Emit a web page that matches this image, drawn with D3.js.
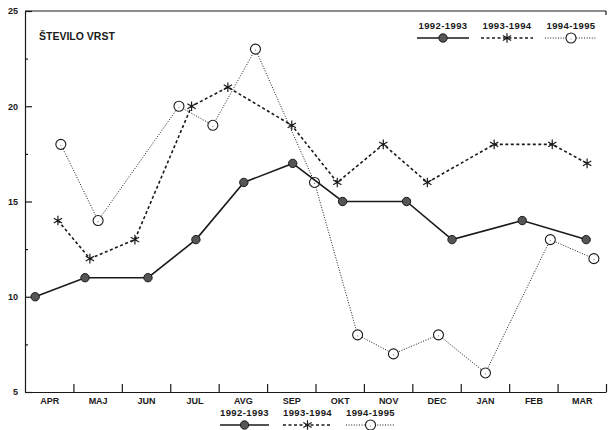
<!DOCTYPE html>
<html><head><meta charset="utf-8">
<script src="https://cdn.jsdelivr.net/npm/d3@7"></script>
<style>
html,body{margin:0;padding:0;background:#fff;}
svg{display:block;font-family:"Liberation Sans",Arial,sans-serif;}
</style></head>
<body>
<svg id="c" width="608" height="430"></svg>
<script>
// ---- data ----
const months = ["APR","MAJ","JUN","JUL","AVG","SEP","OKT","NOV","DEC","JAN","FEB","MAR"];
const yTicksMajor = [5,10,15,20,25];
const yTicksMinor = [7.5,12.5,17.5,22.5];
const seriesNames = ["1992-1993","1993-1994","1994-1995"];
// sampling time, in months from the start of April
const t9293 = [0.21,1.24,2.54,3.53,4.52,5.53,6.56,7.88,8.82,10.27,11.59];
const v9293 = [10,11,11,13,16,17,15,15,13,14,13];
const t9394 = [0.68,1.34,2.27,3.44,4.19,5.51,6.45,7.40,8.31,9.69,10.89,11.61];
const v9394 = [14,12,13,20,21,19,16,18,16,18,18,17];
const t9495 = [0.74,1.51,3.18,3.88,4.76,5.98,6.87,7.61,8.54,9.51,10.85,11.75];
const v9495 = [18,14,20,19,23,16,8,7,8,6,13,12];
const title = "ŠTEVILO VRST";

// ---- layout ----
const svg = d3.select("#c");
const ink = "#1a1a1a";
const x = d3.scaleLinear().domain([0,12]).range([25,606]);
const y = d3.scaleLinear().domain([5,25]).range([392,11]);

// axes
const gy = svg.append("g").attr("transform",`translate(${x(0)},0)`)
  .call(d3.axisLeft(y).tickValues(yTicksMajor).tickSizeInner(-7).tickSizeOuter(0).tickPadding(7).tickFormat(d3.format("d")));
const gy2 = svg.append("g").attr("transform",`translate(${x(0)},0)`)
  .call(d3.axisLeft(y).tickValues(yTicksMinor).tickSizeInner(-3).tickSizeOuter(0).tickFormat(""));
gy2.select(".domain").remove();
const gx = svg.append("g").attr("transform",`translate(0,${y(5)})`)
  .call(d3.axisBottom(x).tickValues(d3.range(1,13)).tickSizeInner(-8).tickSizeOuter(0).tickFormat(""));
const gx2 = svg.append("g").attr("transform",`translate(0,${y(5)})`)
  .call(d3.axisBottom(x).tickValues(d3.range(12).map(i=>i+0.5)).tickSize(0).tickPadding(6).tickFormat((d,i)=>months[i]));
gx2.select(".domain").remove();
[gy,gy2,gx,gx2].forEach(g=>{
  g.selectAll("path,line").attr("stroke",ink).attr("stroke-width",1.2);
  g.selectAll("text").attr("fill",ink).style("font-size","9px").style("font-weight","bold")
   .style("font-family",'"Liberation Sans",Arial,sans-serif');
});
// top frame line
svg.append("line").attr("x1",x(0)).attr("x2",x(12)).attr("y1",y(25)).attr("y2",y(25))
  .attr("stroke",ink).attr("stroke-width",1.2);
svg.append("line").attr("x1",x(12)).attr("x2",x(12)).attr("y1",y(25)).attr("y2",y(25)+4)
  .attr("stroke",ink).attr("stroke-width",1.2);

svg.append("text").attr("x",39).attr("y",40).text(title)
  .attr("fill",ink).style("font-size","10.5px").style("font-weight","bold");

// ---- series ----
const series = [
  {name:seriesNames[0], t:t9293, v:v9293, dash:null, w:1.6, marker:"dot"},
  {name:seriesNames[1], t:t9394, v:v9394, dash:"3,2.5", w:1.6, marker:"star"},
  {name:seriesNames[2], t:t9495, v:v9495, dash:"1,1.6", w:1, marker:"ring"}
];
const line = d3.line().x(d=>x(d[0])).y(d=>y(d[1]));

function starPath(r){
  let p="";
  for(let k=0;k<3;k++){
    const a=Math.PI/2 + k*Math.PI/3;
    const dx=r*Math.cos(a), dy=r*Math.sin(a);
    p+=`M${-dx},${-dy}L${dx},${dy}`;
  }
  return p;
}
function drawMarker(g, type, cx, cy){
  if(type==="dot"){
    g.append("circle").attr("cx",cx).attr("cy",cy).attr("r",4.2)
      .attr("fill","#555").attr("stroke",ink).attr("stroke-width",1);
  } else if(type==="star"){
    g.append("path").attr("transform",`translate(${cx},${cy})`).attr("d",starPath(4.8))
      .attr("stroke",ink).attr("stroke-width",1.2).attr("fill","none");
  } else {
    g.append("circle").attr("cx",cx).attr("cy",cy).attr("r",5)
      .attr("fill","#fff").attr("stroke",ink).attr("stroke-width",1.1);
    g.append("circle").attr("cx",cx).attr("cy",cy+1).attr("r",0.6).attr("fill","#777");
  }
}

// draw in order: dotted, dashed, solid
[series[2],series[1],series[0]].forEach(s=>{
  const pts = s.t.map((t,i)=>[t,s.v[i]]);
  const g = svg.append("g");
  g.append("path").datum(pts).attr("d",line).attr("fill","none")
    .attr("stroke",ink).attr("stroke-width",s.w)
    .attr("stroke-dasharray",s.dash);
  pts.forEach(p=>drawMarker(g,s.marker,x(p[0]),y(p[1])));
});

// ---- legends ----
function legend(x0, ty, ly, step, w){
  series.forEach((s,i)=>{
    const lx = x0 + i*step;
    const g = svg.append("g");
    g.append("text").attr("x",lx+w/2).attr("y",ty).attr("text-anchor","middle").text(s.name)
      .attr("fill",ink).style("font-size","9.5px").style("font-weight","bold").style("letter-spacing","0.4px");
    g.append("line").attr("x1",lx).attr("x2",lx+w).attr("y1",ly).attr("y2",ly)
      .attr("stroke",ink).attr("stroke-width",s.w).attr("stroke-dasharray",s.dash);
    drawMarker(g,s.marker,lx+w/2,ly);
  });
}
legend(417, 29, 38, 64, 52);
legend(220, 416, 425, 63, 49);
</script>
</body></html>
